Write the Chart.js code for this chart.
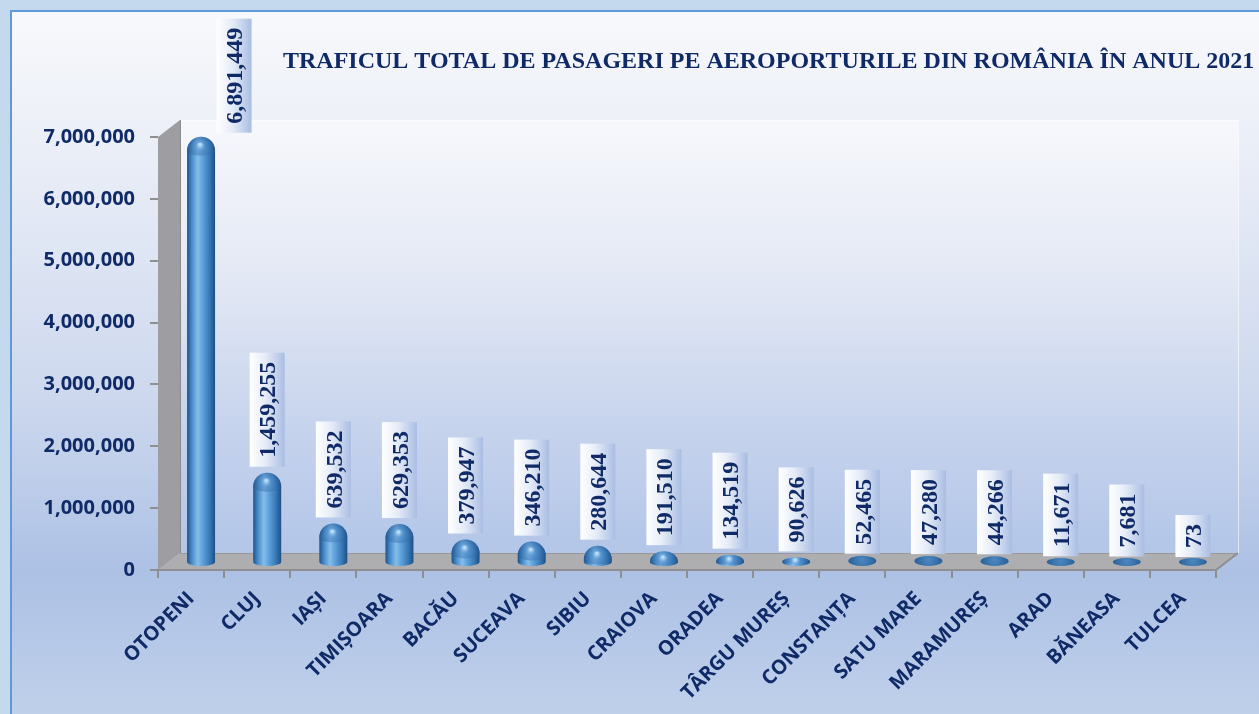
<!DOCTYPE html>
<html>
<head>
<meta charset="utf-8">
<script src="https://cdn.jsdelivr.net/npm/chart.js@4"></script>
<style>
html,body{margin:0;padding:0;background:#c4d9ee;}
#wrap{position:relative;width:1259px;height:714px;}
</style>
</head>
<body>
<div id="wrap"><canvas id="c" width="1259" height="714"></canvas></div>
<script>
const titleText = 'TRAFICUL TOTAL DE PASAGERI PE AEROPORTURILE DIN ROMÂNIA ÎN ANUL 2021';
const airports = ['OTOPENI','CLUJ','IAȘI','TIMIȘOARA','BACĂU','SUCEAVA','SIBIU','CRAIOVA','ORADEA','TÂRGU MUREȘ','CONSTANȚA','SATU MARE','MARAMUREȘ','ARAD','BĂNEASA','TULCEA'];
const passengers = [6891449,1459255,639532,629353,379947,346210,280644,191510,134519,90626,52465,47280,44266,11671,7681,73];
const yTicks = [0,1000000,2000000,3000000,4000000,5000000,6000000,7000000];

const NAVY = '#0f2a66';
const DEPTH_X = 22, DEPTH_Y = 17;   // 3D wall offset
const BAR_DX = 10, BAR_DY = -7;     // bars sit mid-depth

const fmt = v => v.toLocaleString('en-US');

const scene = {
  id: 'scene',
  beforeDraw(chart) {
    const ctx = chart.ctx, a = chart.chartArea;
    const W = chart.width, H = chart.height;
    ctx.save();
    ctx.fillStyle = '#c4d9ee';
    ctx.fillRect(0, 0, W, H);
    const g = ctx.createLinearGradient(0, 10, 0, H);
    g.addColorStop(0, '#f8f9fc');
    g.addColorStop(0.2, '#eaeef7');
    g.addColorStop(0.55, '#cdd8ee');
    g.addColorStop(0.8, '#adc1e5');
    g.addColorStop(1, '#bfd0ea');
    ctx.fillStyle = g;
    ctx.fillRect(11, 11, W - 11, H - 11);
    ctx.strokeStyle = '#5e9bd6';
    ctx.lineWidth = 2;
    ctx.beginPath();
    ctx.moveTo(11, H); ctx.lineTo(11, 11); ctx.lineTo(W, 11);
    ctx.stroke();

    const L = a.left, R = a.right, T = a.top, B = a.bottom;
    const bw = ctx.createLinearGradient(0, T - DEPTH_Y, 0, B - DEPTH_Y);
    bw.addColorStop(0, '#f7f8fc');
    bw.addColorStop(0.35, '#e4e9f5');
    bw.addColorStop(0.75, '#c3d1ec');
    bw.addColorStop(1, '#b3c6e8');
    ctx.fillStyle = bw;
    ctx.fillRect(L + DEPTH_X, T - DEPTH_Y, R - L, B - T);
    ctx.strokeStyle = 'rgba(255,255,255,0.6)';
    ctx.lineWidth = 1;
    ctx.strokeRect(L + DEPTH_X + 0.5, T - DEPTH_Y + 0.5, R - L, B - T);
    ctx.fillStyle = '#9e9da2';
    ctx.beginPath();
    ctx.moveTo(L, T); ctx.lineTo(L + DEPTH_X, T - DEPTH_Y);
    ctx.lineTo(L + DEPTH_X, B - DEPTH_Y); ctx.lineTo(L, B);
    ctx.closePath(); ctx.fill();
    ctx.strokeStyle = '#8c8b90';
    ctx.beginPath();
    ctx.moveTo(L + DEPTH_X + 0.5, T - DEPTH_Y); ctx.lineTo(L + DEPTH_X + 0.5, B - DEPTH_Y);
    ctx.stroke();
    ctx.fillStyle = '#aeaeb0';
    ctx.beginPath();
    ctx.moveTo(L, B); ctx.lineTo(L + DEPTH_X, B - DEPTH_Y);
    ctx.lineTo(R + DEPTH_X, B - DEPTH_Y); ctx.lineTo(R, B);
    ctx.closePath(); ctx.fill();
    ctx.strokeStyle = '#9a9a9c';
    ctx.beginPath();
    ctx.moveTo(L + DEPTH_X, B - DEPTH_Y + 0.5); ctx.lineTo(R + DEPTH_X, B - DEPTH_Y + 0.5);
    ctx.stroke();
    ctx.strokeStyle = '#8f8f92';
    ctx.lineWidth = 2;
    ctx.beginPath();
    ctx.moveTo(L - 8, B); ctx.lineTo(R, B); ctx.lineTo(R + DEPTH_X, B - DEPTH_Y);
    ctx.stroke();
    ctx.fillStyle = NAVY;
    ctx.font = 'bold 24px "Liberation Serif", "Times New Roman", serif';
    ctx.textAlign = 'left';
    ctx.textBaseline = 'alphabetic';
    ctx.fillText(titleText, 283, 68);
    ctx.restore();
  },
  afterDatasetsDraw(chart) {
    const ctx = chart.ctx;
    const meta = chart.getDatasetMeta(0);
    ctx.save();
    ctx.translate(BAR_DX, BAR_DY);
    meta.data.forEach((el, i) => {
      const cx = el.x, top = el.y, base = el.base, w = el.width;
      const r = w / 2, ry = 4;
      const h = base - top;
      const grad = ctx.createLinearGradient(cx - r, 0, cx + r, 0);
      grad.addColorStop(0, '#1f5289');
      grad.addColorStop(0.18, '#4a8fcb');
      grad.addColorStop(0.38, '#86bdea');
      grad.addColorStop(0.55, '#5fa2dc');
      grad.addColorStop(0.82, '#3576b3');
      grad.addColorStop(1, '#1d4f85');
      if (h > 4) {
        const capR = Math.min(r, h);
        ctx.beginPath();
        ctx.moveTo(cx - r, base);
        ctx.lineTo(cx - r, top + capR);
        ctx.ellipse(cx, top + capR, r, capR, 0, Math.PI, 2 * Math.PI);
        ctx.lineTo(cx + r, base);
        ctx.ellipse(cx, base, r, ry, 0, 0, Math.PI);
        ctx.closePath();
        ctx.fillStyle = grad;
        ctx.fill();
        const dg = ctx.createRadialGradient(cx - 1, top + capR * 0.55, 1, cx, top + capR, r * 1.1);
        dg.addColorStop(0, 'rgba(190,225,250,0.95)');
        dg.addColorStop(0.25, 'rgba(80,140,200,0.55)');
        dg.addColorStop(1, 'rgba(30,80,140,0.55)');
        ctx.beginPath();
        ctx.ellipse(cx, top + capR, r, capR, 0, Math.PI, 2 * Math.PI);
        ctx.ellipse(cx, top + capR, r, capR * 0.35, 0, 0, Math.PI);
        ctx.closePath();
        ctx.fillStyle = dg;
        ctx.fill();
      } else {
        const hh = Math.max(h, 0);
        ctx.beginPath();
        ctx.ellipse(cx, base - hh / 2, r, ry + hh / 2, 0, 0, Math.PI * 2);
        const eg = ctx.createRadialGradient(cx, base - hh / 2 - 1, 1, cx, base - hh / 2, r);
        eg.addColorStop(0, '#4a86bd');
        eg.addColorStop(1, '#27609a');
        ctx.fillStyle = eg;
        ctx.fill();
      }
    });
    ctx.font = 'bold 24px "Liberation Serif", "Times New Roman", serif';
    meta.data.forEach((el, i) => {
      const txt = fmt(passengers[i]);
      const tw = ctx.measureText(txt).width;
      const bh = tw + 18, bwid = 35;
      let cx = el.x;
      let bottom = el.y - 6;
      if (bottom - bh < 40) { cx += 33; bottom = el.y - 4; }
      const x0 = cx - bwid / 2, y0 = bottom - bh;
      const lg = ctx.createLinearGradient(x0, 0, x0 + bwid, 0);
      lg.addColorStop(0, '#ffffff');
      lg.addColorStop(0.45, '#e6ecf7');
      lg.addColorStop(1, '#a9bde3');
      ctx.fillStyle = lg;
      ctx.fillRect(x0, y0, bwid, bh);
      ctx.save();
      ctx.translate(cx + 1, bottom - bh / 2);
      ctx.rotate(-Math.PI / 2);
      ctx.fillStyle = NAVY;
      ctx.textAlign = 'center';
      ctx.textBaseline = 'middle';
      ctx.fillText(txt, 0, 1);
      ctx.restore();
    });
    ctx.restore();
  }
};

new Chart(document.getElementById('c'), {
  type: 'bar',
  data: {
    labels: airports,
    datasets: [{
      data: passengers,
      backgroundColor: 'rgba(0,0,0,0)',
      borderWidth: 0,
      barThickness: 28
    }]
  },
  options: {
    responsive: false,
    animation: false,
    events: [],
    layout: { padding: { left: 0, right: 43, top: 137, bottom: 0 } },
    plugins: { legend: { display: false }, tooltip: { enabled: false }, title: { display: false } },
    scales: {
      x: {
        type: 'category',
        offset: true,
        grid: { offset: true, drawOnChartArea: false, drawTicks: true, tickLength: 8, color: '#8f8f92', lineWidth: 2 },
        border: { display: false },
        ticks: {
          autoSkip: false, maxRotation: 45, minRotation: 45, padding: 9,
          color: NAVY,
          font: { family: '"Open Sans", sans-serif', size: 20, weight: 'bold' }
        },
        afterFit(s) { s.height = 144; }
      },
      y: {
        min: 0, max: 7000000,
        afterBuildTicks(s) { s.ticks = yTicks.map(v => ({ value: v })); },
        grid: { drawOnChartArea: false, drawTicks: true, tickLength: 8, color: '#8f8f92', lineWidth: 2 },
        border: { display: false },
        ticks: {
          padding: 15,
          color: NAVY,
          font: { family: '"Open Sans", sans-serif', size: 20, weight: 'bold' },
          callback: v => fmt(v)
        },
        afterFit(s) { s.width = 158; }
      }
    }
  },
  plugins: [scene]
});
</script>
</body>
</html>
